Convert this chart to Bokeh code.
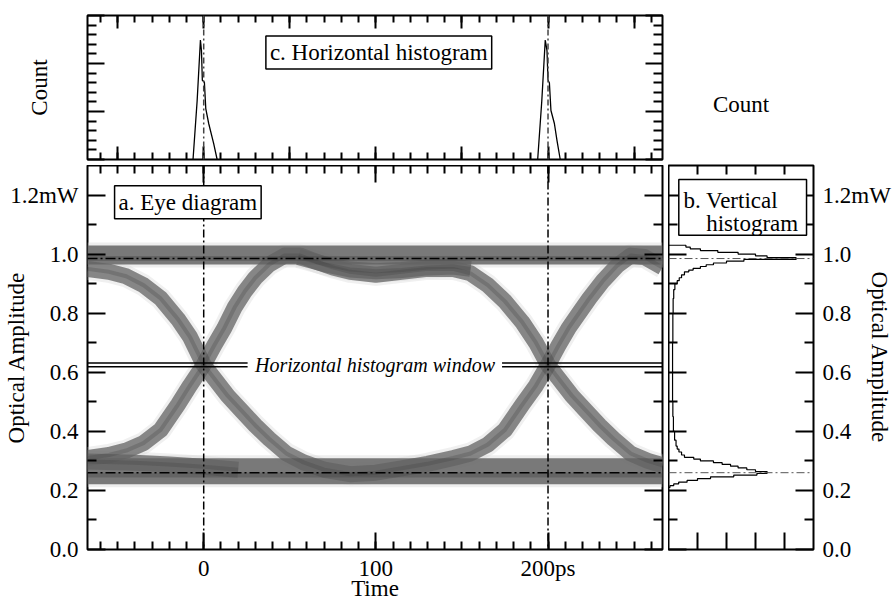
import math
from bokeh.plotting import figure
from bokeh.models import Range1d, LinearAxis, FixedTicker, Label, BoxAnnotation, Span
from bokeh.layouts import column, row
from bokeh.embed import file_html
from bokeh.resources import INLINE

FONT = "Liberation Serif"

# ---------------- data ----------------
time_lo, time_hi = -67.5, 266.5          # ps
amp_lo, amp_hi = 0.0, 1.3                # mW
count_top_lo, count_top_hi = 0.0, 3.0
count_right_lo, count_right_hi = 0.0, 5.0

time_major = [0, 100, 200]
time_major_labels = ["0", "100", "200ps"]
time_minor = [-60, -50, -40, -30, -20, -10, 0, 10, 20, 30, 40, 50, 60, 70, 80, 90, 100,
              110, 120, 130, 140, 150, 160, 170, 180, 190, 200, 210, 220, 230, 240, 250, 260]
hist_time_major = [-50, 0, 50, 100, 150, 200, 250]
amp_major = [0.0, 0.2, 0.4, 0.6, 0.8, 1.0, 1.2]
amp_major_labels = ["0.0", "0.2", "0.4", "0.6", "0.8", "1.0", "1.2mW"]
amp_minor = [0.1, 0.3, 0.5, 0.7, 0.9, 1.1]
count_top_major = [0, 1, 2, 3]
count_top_minor = [0.2, 0.4, 0.6, 0.8, 1.2, 1.4, 1.6, 1.8, 2.2, 2.4, 2.6, 2.8]
count_right_major = [1, 2, 3, 4]

one_level = 0.985
zero_level = 0.26
crossing_times = [0, 200]
window_lo, window_hi = 0.619, 0.631
window_left_t = [-67.5, 25.5]
window_right_t = [173.3, 266.5]

# eye diagram trace families
rail_t = [-67.5, 266.5]
top_rail_amp = [0.997, 0.997]
bottom_rail_amp = [0.265, 0.265]

rise0_fall200_t = [-67.5, -55, -45, -35, -25, -15, -8, 0, 6, 12, 18, 24, 30, 38, 47, 56, 65, 75, 85,
                   100, 115, 130, 145, 155, 165, 175, 185, 193, 200, 206, 214, 222, 230, 238, 248, 258, 266.5]
rise0_fall200_amp = [0.31, 0.32, 0.335, 0.36, 0.405, 0.49, 0.555, 0.625, 0.69, 0.75, 0.82, 0.875, 0.92,
                     0.965, 0.995, 0.995, 0.975, 0.955, 0.94, 0.93, 0.94, 0.95, 0.95, 0.935, 0.895, 0.84,
                     0.77, 0.70, 0.625, 0.58, 0.52, 0.47, 0.42, 0.375, 0.325, 0.30, 0.285]

fall0_rise200_t = [-67.5, -55, -45, -35, -25, -15, -8, 0, 6, 14, 22, 30, 38, 48, 58, 70, 85, 100, 115,
                   130, 145, 155, 165, 175, 185, 193, 200, 206, 212, 218, 224, 232, 240, 248, 256, 266.5]
fall0_rise200_amp = [0.95, 0.94, 0.925, 0.895, 0.85, 0.78, 0.72, 0.625, 0.58, 0.52, 0.47, 0.42, 0.375,
                     0.325, 0.295, 0.27, 0.255, 0.26, 0.275, 0.29, 0.31, 0.325, 0.355, 0.405, 0.49,
                     0.555, 0.625, 0.69, 0.75, 0.80, 0.85, 0.91, 0.96, 0.995, 0.99, 0.955]

overshoot_spread_t = [55, 70, 85, 100, 115, 130, 145, 155]
overshoot_spread_amp = [0.99, 0.966, 0.948, 0.942, 0.946, 0.955, 0.958, 0.95]

low_relax_t = [-67.5, -40, -20, 0, 20]
low_relax_amp = [0.298, 0.294, 0.288, 0.28, 0.27]

# horizontal histogram (counts vs time) around the two crossings
hhist1_t = [-6.2, -3.8, -1.9, -1.3, -0.8, 0.4, 1.2, 2.9, 5.8, 7.8]
hhist1_count = [0.0, 1.23, 2.49, 2.27, 1.65, 1.61, 1.06, 0.75, 0.33, 0.0]
hhist2_t = [194.0, 196.4, 198.4, 199.4, 200.0, 200.8, 201.7, 203.7, 205.2, 207.1]
hhist2_count = [0.0, 1.23, 2.49, 2.27, 1.65, 1.60, 1.02, 0.75, 0.40, 0.0]

# vertical histogram: bin edges (amplitude, descending) and counts per bin
vhist_edges = [1.030, 1.024, 1.018, 1.012, 1.006, 1.000, 0.994, 0.988, 0.982, 0.976, 0.970, 0.964,
               0.958, 0.952, 0.946, 0.940, 0.930, 0.920, 0.910, 0.900, 0.880, 0.850, 0.800, 0.700,
               0.600, 0.500, 0.450, 0.400, 0.370, 0.350, 0.340, 0.330, 0.320, 0.312, 0.306, 0.300,
               0.294, 0.288, 0.282, 0.276, 0.270, 0.264, 0.258, 0.252, 0.246, 0.240, 0.234, 0.228,
               0.222, 0.216, 0.210]
vhist_counts = [0.6, 0.75, 1.1, 1.7, 2.4, 3.0, 3.4, 4.4, 2.6, 2.0, 1.55, 1.3, 1.1, 0.85, 0.7, 0.55,
                0.45, 0.37, 0.3, 0.22, 0.18, 0.16, 0.15, 0.14, 0.14, 0.15, 0.17, 0.21, 0.26, 0.3,
                0.36, 0.45, 0.55, 0.87, 1.1, 1.55, 1.85, 2.14, 2.4, 2.7, 3.0, 3.4, 3.05, 2.25, 1.45,
                1.0, 0.64, 0.35, 0.18, 0.05]

# ---------------- helpers ----------------
def make_axis(ticks, minor, tick_in, minor_in, labels=None, standoff=9,
              title=None, title_standoff=0):
    ax = LinearAxis(ticker=FixedTicker(ticks=ticks, minor_ticks=minor))
    ax.axis_line_color = None
    ax.major_tick_in = tick_in
    ax.major_tick_out = 0
    ax.minor_tick_in = minor_in
    ax.minor_tick_out = 0
    ax.major_tick_line_width = 2
    ax.minor_tick_line_width = 2
    ax.major_tick_line_color = "black"
    ax.minor_tick_line_color = "black"
    if labels is None:
        ax.major_label_text_color = None
        ax.major_label_text_font_size = "0px"
        ax.major_label_standoff = 0
    else:
        ax.major_label_overrides = {t: s for t, s in zip(ticks, labels)}
        ax.major_label_text_font = FONT
        ax.major_label_text_font_size = "23px"
        ax.major_label_text_color = "black"
        ax.major_label_standoff = standoff
    if title is not None:
        ax.axis_label = title
        ax.axis_label_text_font = FONT
        ax.axis_label_text_font_size = "23px"
        ax.axis_label_text_font_style = "normal"
        ax.axis_label_text_color = "black"
        ax.axis_label_standoff = title_standoff
    return ax


def base_fig(fw, fh, xr, yr, bl, br, bt, bb):
    f = figure(frame_width=fw, frame_height=fh, x_range=xr, y_range=yr,
               min_border_left=bl, min_border_right=br, min_border_top=bt, min_border_bottom=bb,
               x_axis_location=None, y_axis_location=None,
               output_backend="svg", toolbar_location=None)
    f.outline_line_color = "black"
    f.outline_line_width = 2
    f.background_fill_color = "white"
    f.border_fill_color = "white"
    f.xgrid.visible = False
    f.ygrid.visible = False
    return f


def text(fig, x, y, s, size="23px", align="center", baseline="middle", style="normal", box=False):
    kw = {}
    if box:
        kw = dict(background_fill_color="white", border_line_color="black", border_line_width=1.5,
                  padding=4)
    lab = Label(x=x, y=y, text=s, text_font=FONT, text_font_size=size, text_color="black",
                text_align=align, text_baseline=baseline, text_font_style=style, **kw)
    fig.add_layout(lab)
    return lab


time_rng = Range1d(time_lo, time_hi)
amp_rng = Range1d(amp_lo, amp_hi)

# ---------------- top: horizontal histogram ----------------
top = base_fig(575, 144, time_rng, Range1d(count_top_lo, count_top_hi), 87, 6, 15, 6)
top.add_layout(make_axis(hist_time_major, time_minor, 13, 7), "below")
top.add_layout(make_axis(hist_time_major, time_minor, 13, 7), "above")
top.add_layout(make_axis(count_top_major, count_top_minor, 17, 9, title="Count",
                         title_standoff=36), "left")
top.add_layout(make_axis(count_top_major, count_top_minor, 17, 9), "right")
for ct in crossing_times:
    top.add_layout(Span(location=ct, dimension="height", line_color="#444444", line_width=1.5,
                        line_dash="6 3 2 3"))
top.line(hhist1_t, hhist1_count, line_color="black", line_width=1.3)
top.line(hhist2_t, hhist2_count, line_color="black", line_width=1.3)
text(top, 101.7, 2.23, "c. Horizontal histogram", box=True)

# ---------------- main: eye diagram ----------------
main = base_fig(575, 384, time_rng, amp_rng, 87, 6, 0, 50)
main.add_layout(make_axis(time_major, time_minor, 17, 8, time_major_labels, 6,
                          title="Time", title_standoff=-8), "below")
main.add_layout(make_axis(time_major, time_minor, 17, 8), "above")
main.add_layout(make_axis(amp_major, amp_minor, 18, 9, amp_major_labels, 9,
                          title="Optical Amplitude", title_standoff=-22), "left")
main.add_layout(make_axis(amp_major, amp_minor, 18, 9), "right")

edges_t = [rise0_fall200_t, fall0_rise200_t, overshoot_spread_t, low_relax_t]
edges_a = [rise0_fall200_amp, fall0_rise200_amp, overshoot_spread_amp, low_relax_amp]
rails_t = [rail_t, rail_t]
rails_a = [top_rail_amp, bottom_rail_amp]
# fuzzy outer halo
main.multi_line(rails_t, rails_a, line_width=[25, 32], line_color="#d4d4d4", line_alpha=0.4)
main.multi_line(edges_t, edges_a, line_width=22, line_color="#d4d4d4", line_alpha=0.35,
                line_join="round")
# body
main.multi_line(rails_t, rails_a, line_width=[19, 26], line_color="#6c6c6c", line_alpha=0.9)
main.multi_line(edges_t, edges_a, line_width=16, line_color="#636363", line_alpha=0.75,
                line_join="round")
# darker cores
main.multi_line(rails_t, [[one_level, one_level], [zero_level - 0.008, zero_level - 0.008]],
                line_width=5, line_color="#404040", line_alpha=0.35)
main.multi_line(edges_t, edges_a, line_width=4, line_color="#3a3a3a", line_alpha=0.25,
                line_join="round")

for ct in crossing_times:
    main.add_layout(Span(location=ct, dimension="height", line_color="black", line_width=1.5,
                         line_dash="8 3 2 3"))
for lv in [one_level, zero_level]:
    main.add_layout(Span(location=lv, dimension="width", line_color="black", line_width=1.5,
                         line_dash="10 3 2 3"))

main.multi_line([window_left_t, window_right_t, window_left_t, window_right_t],
                [[window_lo] * 2, [window_lo] * 2, [window_hi] * 2, [window_hi] * 2],
                line_color="black", line_width=1.5)
text(main, 99.5, 0.625, "Horizontal histogram window", size="20px", style="italic")
text(main, -9.2, 1.176, "a. Eye diagram", box=True)

# ---------------- right: vertical histogram ----------------
right = base_fig(145, 384, Range1d(count_right_lo, count_right_hi), amp_rng, 0, 79, 165, 50)
right.add_layout(make_axis(count_right_major, [], 17, 0), "below")
right.add_layout(make_axis(count_right_major, [], 9, 0, title="Count", title_standoff=49), "above")
right.add_layout(make_axis(amp_major, amp_minor, 18, 9), "left")
right.add_layout(make_axis(amp_major, amp_minor, 18, 9, amp_major_labels, 9,
                           title="Optical Amplitude", title_standoff=-27), "right")

for lv in [one_level, zero_level]:
    right.add_layout(Span(location=lv, dimension="width", line_color="#555555", line_width=1,
                          line_dash="8 3 2 3"))
step_x = [0.0]
step_y = [vhist_edges[0]]
for i, c in enumerate(vhist_counts):
    step_x += [c, c]
    step_y += [vhist_edges[i], vhist_edges[i + 1]]
step_x.append(0.0)
step_y.append(vhist_edges[-1])
right.line(step_x, step_y, line_color="black", line_width=1.2)

right.add_layout(BoxAnnotation(left=0.355, right=4.76, bottom=1.064, top=1.253, fill_color="white",
                               fill_alpha=1.0, line_color="black", line_alpha=1.0, line_width=1.5))
text(right, 0.517, 1.183, "b. Vertical", align="left", baseline="alphabetic")
text(right, 1.30, 1.105, "histogram", align="left", baseline="alphabetic")

layout = row(column(top, main), right)
open("out.html", "w").write(file_html(layout, INLINE))
